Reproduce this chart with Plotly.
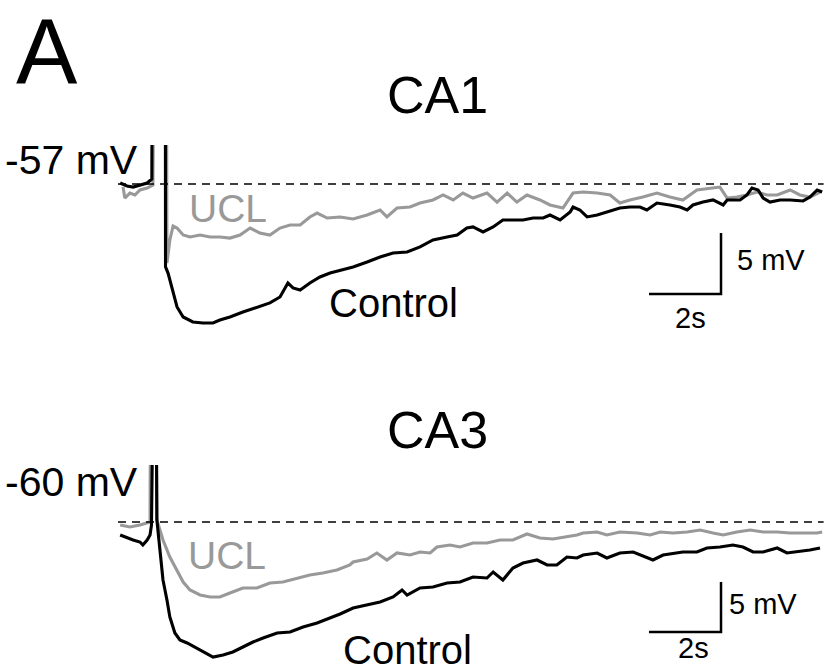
import plotly.graph_objects as go

# ---------------- data (time in s, membrane potential change from rest in mV) ----------------
# spikes are truncated in the original figure; 30 mV stands for "off-scale"
CA1_REST_LABEL = "-57 mV"
CA3_REST_LABEL = "-60 mV"

ca1_ctrl_t = [0.06, 0.25, 0.42, 0.61, 0.81, 0.94, 0.97, 1.31, 1.32, 1.39, 1.50, 1.64, 1.81, 2.08, 2.36, 2.64,
              2.83, 3.11, 3.47, 3.86, 4.22, 4.50, 4.64, 4.72, 4.86, 5.06, 5.33, 5.61, 5.89, 6.25, 6.53, 6.92,
              7.28, 7.64, 8.03, 8.39, 8.75, 9.14, 9.42, 9.69, 9.86, 10.14, 10.42, 10.69, 10.97, 11.25, 11.53,
              11.81, 12.00, 12.28, 12.56, 12.64, 12.83, 13.03, 13.31, 13.58, 13.94, 14.22, 14.50, 14.69, 14.97,
              15.33, 15.61, 15.81, 15.97, 16.25, 16.53, 16.81, 16.92, 17.28, 17.47, 17.61, 17.78, 17.92, 18.11,
              18.39, 18.67, 19.03, 19.22, 19.42, 19.56]
ca1_ctrl_v = [0.08, -0.16, -0.25, -0.08, 0.08, 0.41, 30, 30, -6.80, -7.30, -8.44, -10.08, -10.90, -11.31, -11.39,
              -11.39, -11.15, -10.90, -10.49, -10.08, -9.75, -9.26, -8.52, -8.11, -8.52, -8.69, -8.11, -7.62, -7.30,
              -7.05, -6.80, -6.39, -5.98, -5.66, -5.57, -5.16, -4.59, -4.34, -4.18, -3.61, -3.52, -3.93, -3.52,
              -2.95, -2.95, -2.95, -2.79, -2.79, -2.54, -2.95, -2.30, -1.89, -2.13, -2.70, -2.54, -2.30, -1.97,
              -1.89, -1.89, -2.13, -1.56, -1.72, -1.89, -2.13, -1.72, -1.48, -1.31, -1.72, -1.31, -1.31, -0.90,
              -0.33, -0.49, -1.15, -1.48, -1.31, -1.31, -1.39, -1.07, -0.49, -0.66]

ca1_ucl_t = [0.14, 0.19, 0.33, 0.47, 0.61, 0.81, 0.97, 1.03, 1.33, 1.36, 1.44, 1.53, 1.64, 1.81, 2.00, 2.28, 2.56,
             2.83, 3.11, 3.39, 3.67, 3.94, 4.22, 4.50, 4.78, 5.06, 5.33, 5.53, 5.81, 6.17, 6.53, 6.92, 7.28, 7.47,
             7.75, 8.11, 8.39, 8.75, 9.03, 9.31, 9.58, 9.86, 10.25, 10.53, 10.81, 11.08, 11.36, 11.72, 12.00, 12.36,
             12.64, 12.92, 13.31, 13.67, 13.94, 14.22, 14.58, 14.97, 15.33, 15.69, 16.08, 16.44, 16.72, 16.92,
             17.19, 17.47, 17.75, 18.03, 18.31, 18.67, 18.94, 19.22, 19.50]
ca1_ucl_v = [-0.25, -1.15, -0.74, -0.90, -0.49, -0.33, -0.08, 30, 30, -6.48, -4.59, -3.44, -3.61, -4.18, -4.34,
             -4.18, -4.34, -4.34, -4.43, -4.18, -3.61, -4.02, -4.18, -3.61, -3.36, -3.36, -2.70, -2.38, -2.79, -2.70,
             -2.87, -2.54, -2.13, -2.70, -1.97, -1.89, -1.56, -1.31, -0.90, -1.31, -0.74, -1.15, -0.74, -1.48, -0.74,
             -1.48, -0.90, -1.31, -1.72, -1.97, -0.74, -0.66, -0.74, -0.90, -1.56, -1.31, -1.07, -0.74, -1.07, -1.31,
             -0.49, -0.33, -0.25, -1.15, -1.07, -0.90, -0.66, -0.90, -0.90, -0.49, -0.90, -1.07, -0.66]

ca3_ctrl_t = [0.06, 0.25, 0.42, 0.61, 0.69, 0.81, 0.89, 0.93, 0.94, 1.03, 1.08, 1.17, 1.25, 1.36, 1.44, 1.58, 1.72,
              1.92, 2.19, 2.47, 2.64, 2.92, 3.19, 3.47, 3.75, 4.03, 4.42, 4.78, 5.14, 5.53, 5.89, 6.17, 6.53, 6.92,
              7.28, 7.64, 7.89, 8.03, 8.39, 8.75, 9.14, 9.50, 9.86, 10.25, 10.42, 10.69, 10.97, 11.25, 11.64, 11.92,
              12.19, 12.47, 12.75, 12.92, 13.31, 13.58, 13.94, 14.31, 14.69, 14.86, 15.14, 15.53, 15.69, 16.08,
              16.36, 16.72, 17.08, 17.36, 17.64, 17.92, 18.31, 18.58, 18.86, 19.22, 19.50]
ca3_ctrl_v = [-1.3, -1.6, -1.8, -2.0, -2.3, -1.8, -1.3, -0.3, 30, 30, 0.2, -3.1, -5.8, -7.8, -9.5, -11.1, -11.8,
              -12.1, -12.6, -13.1, -13.5, -13.3, -13.0, -12.5, -12.0, -11.6, -11.1, -11.0, -10.5, -10.1, -9.6, -9.2,
              -8.6, -8.3, -8.0, -7.5, -6.8, -7.3, -6.6, -6.5, -6.1, -6.0, -5.5, -5.6, -5.0, -5.8, -4.6, -4.1, -3.8,
              -4.3, -4.3, -3.5, -3.6, -3.3, -3.1, -3.6, -3.1, -3.0, -3.5, -3.8, -3.3, -3.1, -3.0, -3.0, -2.6, -2.5,
              -2.3, -2.5, -3.0, -3.0, -2.6, -3.1, -3.0, -2.8, -2.6]

ca3_ucl_t = [0.06, 0.33, 0.61, 0.89, 0.92, 1.03, 1.08, 1.25, 1.44, 1.64, 1.81, 2.00, 2.28, 2.56, 2.83, 3.11, 3.47,
             3.86, 4.22, 4.58, 4.97, 5.33, 5.69, 6.08, 6.44, 6.53, 6.92, 7.19, 7.47, 7.75, 8.11, 8.39, 8.67, 8.86,
             9.22, 9.50, 9.86, 10.25, 10.61, 10.97, 11.36, 11.72, 12.08, 12.47, 12.75, 12.92, 13.31, 13.58, 13.94,
             14.42, 14.78, 15.06, 15.42, 15.81, 16.17, 16.53, 16.81, 17.19, 17.56, 17.92, 18.31, 18.67, 19.03,
             19.42, 19.56]
ca3_ucl_v = [-0.3, -0.5, -0.3, 0.0, 30, 30, 0.2, -1.8, -3.5, -4.8, -6.0, -6.8, -7.3, -7.5, -7.5, -7.1, -6.6,
             -6.6, -6.1, -6.0, -5.6, -5.3, -5.1, -4.8, -4.3, -4.0, -3.7, -3.1, -3.8, -3.1, -3.3, -3.0, -3.1, -2.5,
             -2.3, -2.5, -2.1, -2.1, -1.8, -1.8, -1.2, -1.6, -1.7, -1.5, -1.3, -1.1, -1.0, -1.3, -1.0, -1.1, -1.3,
             -1.0, -1.1, -1.0, -0.8, -1.1, -1.3, -1.0, -0.8, -1.0, -1.0, -1.1, -1.1, -1.1, -1.0]

SCALE_T = 2    # s
SCALE_V = 5    # mV
SCALE_T_LABEL = "2s"
SCALE_V_LABEL = "5 mV"

# ---------------- layout constants ----------------
W, H = 827, 672
FONT = "Arial, Liberation Sans, Helvetica, sans-serif"
BLACK = "#000000"
GRAY = "#999999"

def px(x):
    return x / W

def py(y):
    return 1 - y / H

fig = go.Figure()

T_RANGE = [-0.5, 19.694]
panels = [
    dict(ctrl=(ca1_ctrl_t, ca1_ctrl_v), ucl=(ca1_ucl_t, ca1_ucl_v), xa="x", ya="y",
         yrange=[-12.377, 3.197], ydom=[py(335), py(145)],
         bar_t=16.75, bar_v=-9.02),
    dict(ctrl=(ca3_ctrl_t, ca3_ctrl_v), ucl=(ca3_ucl_t, ca3_ucl_v), xa="x2", ya="y2",
         yrange=[-14.6, 5.7], ydom=[py(668), py(465)],
         bar_t=16.75, bar_v=-11.0),
]

for p in panels:
    fig.add_trace(go.Scatter(x=p["ucl"][0], y=p["ucl"][1], mode="lines",
                             line=dict(color=GRAY, width=3.1), xaxis=p["xa"], yaxis=p["ya"],
                             showlegend=False, hoverinfo="skip"))
    fig.add_trace(go.Scatter(x=p["ctrl"][0], y=p["ctrl"][1], mode="lines",
                             line=dict(color=BLACK, width=3.1), xaxis=p["xa"], yaxis=p["ya"],
                             showlegend=False, hoverinfo="skip"))
    # baseline (resting potential)
    fig.add_trace(go.Scatter(x=[0, 19.6], y=[0, 0], mode="lines",
                             line=dict(color=BLACK, width=1.4, dash="8px,6px"),
                             xaxis=p["xa"], yaxis=p["ya"], showlegend=False, hoverinfo="skip"))
    # scale bars
    bt, bv = p["bar_t"], p["bar_v"]
    fig.add_trace(go.Scatter(x=[bt - SCALE_T, bt, bt], y=[bv, bv, bv + SCALE_V], mode="lines",
                             line=dict(color=BLACK, width=2.5), xaxis=p["xa"], yaxis=p["ya"],
                             showlegend=False, hoverinfo="skip"))

axis_common = dict(visible=False, showgrid=False, zeroline=False, fixedrange=True)
fig.update_layout(
    width=W, height=H,
    margin=dict(l=0, r=0, t=0, b=0),
    paper_bgcolor="white", plot_bgcolor="white",
    xaxis=dict(domain=[px(100), 1], range=T_RANGE, anchor="y", **axis_common),
    yaxis=dict(domain=panels[0]["ydom"], range=panels[0]["yrange"], anchor="x", **axis_common),
    xaxis2=dict(domain=[px(100), 1], range=T_RANGE, anchor="y2", **axis_common),
    yaxis2=dict(domain=panels[1]["ydom"], range=panels[1]["yrange"], anchor="x2", **axis_common),
    showlegend=False,
)

def txt(s, x, y, size, color=BLACK, xanchor="center"):
    fig.add_annotation(text=s, x=px(x), y=py(y), xref="paper", yref="paper",
                       xanchor=xanchor, yanchor="middle", showarrow=False,
                       font=dict(family=FONT, size=size, color=color))

txt("A", 14, 52, 92, xanchor="left")
txt("CA1", 437, 95, 52)
txt("CA3", 437, 430, 52)
txt(CA1_REST_LABEL, 3, 160, 41, xanchor="left")
txt(CA3_REST_LABEL, 3, 482, 41, xanchor="left")
txt("UCL", 228, 208, 39, color=GRAY)
txt("UCL", 227, 555, 39, color=GRAY)
txt("Control", 393, 303, 40)
txt("Control", 407, 650, 40)
txt(SCALE_V_LABEL, 735, 260, 29, xanchor="left")
txt(SCALE_T_LABEL, 690, 318, 29)
txt(SCALE_V_LABEL, 727, 604, 29, xanchor="left")
txt(SCALE_T_LABEL, 693, 648, 29)

fig.write_html("out.html")
